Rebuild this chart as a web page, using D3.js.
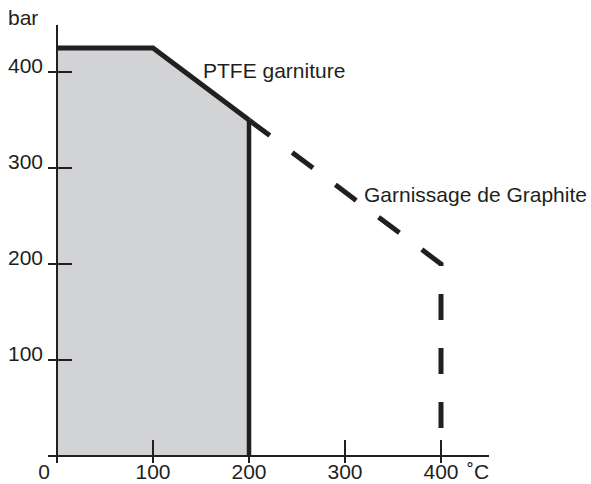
<!DOCTYPE html>
<html>
<head>
<meta charset="utf-8">
<script src="https://cdn.jsdelivr.net/npm/d3@7"></script>
<style>
  body { margin: 0; background: #fff; }
  text { font-family: "Liberation Sans", Arial, sans-serif; fill: #231f20; }
</style>
</head>
<body>
<div id="chart"></div>
<script>
// data (temperature in °C, pressure in bar)
const xTicks = [0, 100, 200, 300, 400];
const yTicks = [100, 200, 300, 400];
const ptfeTemp = [0, 100, 200];
const ptfePress = [425, 425, 350];
const graphiteTemp = [200, 400, 400];
const graphitePress = [350, 200, 0];

const width = 591;
const height = 484;
const ink = "#231f20";
const fs = 21;

const svg = d3.select("#chart")
  .append("svg")
  .attr("width", width)
  .attr("height", height);

const x = d3.scaleLinear().domain([0, 400]).range([57, 441]);
const y = d3.scaleLinear().domain([0, 400]).range([456, 72]);

const ptfe = ptfeTemp.map((t, i) => [t, ptfePress[i]]);
const graphite = graphiteTemp.map((t, i) => [t, graphitePress[i]]);

// grey area under the PTFE curve
const area = d3.area()
  .x(d => x(d[0]))
  .y0(y(0))
  .y1(d => y(d[1]));

svg.append("path")
  .datum(ptfe)
  .attr("d", area)
  .attr("fill", "#d1d3d4");

// axes
svg.append("line")
  .attr("x1", x(0)).attr("x2", x(0))
  .attr("y1", 25).attr("y2", y(0) + 7)
  .attr("stroke", ink).attr("stroke-width", 2);

svg.append("line")
  .attr("x1", x(0) - 9).attr("x2", 489)
  .attr("y1", y(0)).attr("y2", y(0))
  .attr("stroke", ink).attr("stroke-width", 2);

svg.append("g")
  .selectAll("line")
  .data(yTicks)
  .join("line")
  .attr("x1", x(0) - 9).attr("x2", x(0) + 15)
  .attr("y1", d => y(d)).attr("y2", d => y(d))
  .attr("stroke", ink).attr("stroke-width", 2);

svg.append("g")
  .selectAll("line")
  .data(xTicks)
  .join("line")
  .attr("x1", d => x(d)).attr("x2", d => x(d))
  .attr("y1", y(0) - 16).attr("y2", y(0) + 7)
  .attr("stroke", ink).attr("stroke-width", 2);

// tick labels
svg.append("g")
  .selectAll("text")
  .data(yTicks)
  .join("text")
  .attr("x", x(0) - 14)
  .attr("y", d => y(d) + 1)
  .attr("text-anchor", "end")
  .attr("font-size", fs)
  .text(d => d);

svg.append("g")
  .selectAll("text")
  .data(xTicks)
  .join("text")
  .attr("x", d => d === 0 ? x(d) - 13 : x(d))
  .attr("y", 479)
  .attr("text-anchor", "middle")
  .attr("font-size", fs)
  .text(d => d);

svg.append("text")
  .attr("x", 467).attr("y", 479)
  .attr("font-size", fs)
  .text("˚C");

svg.append("text")
  .attr("x", 8).attr("y", 25)
  .attr("font-size", fs)
  .text("bar");

// vertical limit at 200 °C
svg.append("line")
  .attr("x1", x(200)).attr("x2", x(200))
  .attr("y1", y(350)).attr("y2", y(0))
  .attr("stroke", ink).attr("stroke-width", 4.5);

const line = d3.line()
  .x(d => x(d[0]))
  .y(d => y(d[1]));

// graphite packing (dashed)
svg.append("path")
  .datum(graphite)
  .attr("d", line)
  .attr("fill", "none")
  .attr("stroke", ink)
  .attr("stroke-width", 5)
  .attr("stroke-dasharray", "26,28");

// PTFE packing
svg.append("path")
  .datum(ptfe)
  .attr("d", line)
  .attr("fill", "none")
  .attr("stroke", ink)
  .attr("stroke-width", 5)
  .attr("stroke-linejoin", "miter");

svg.append("text")
  .attr("x", 203).attr("y", 78)
  .attr("font-size", fs)
  .text("PTFE garniture");

svg.append("text")
  .attr("x", 364).attr("y", 202)
  .attr("font-size", fs)
  .text("Garnissage de Graphite");
</script>
</body>
</html>
